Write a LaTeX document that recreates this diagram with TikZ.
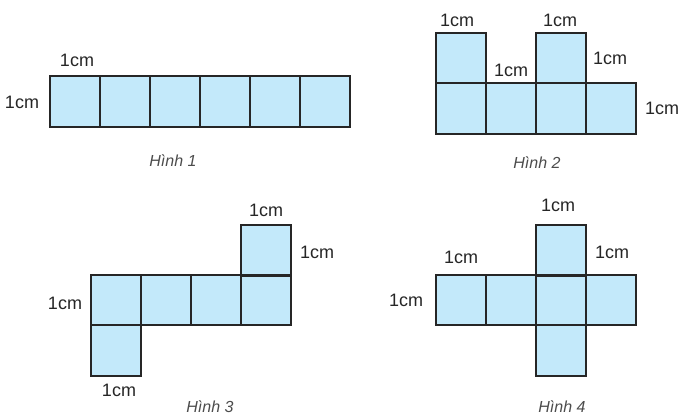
\documentclass[tikz,border=0pt]{standalone}
\usepackage{fontspec}
\setmainfont{Liberation Sans}
\definecolor{cellblue}{HTML}{C3E9FA}
\definecolor{celledge}{HTML}{262626}
\tikzstyle{cell} = [fill=cellblue, draw=celledge, line width=1.4pt]
\tikzstyle{fold} = [draw=celledge, line width=3pt]
\tikzstyle{len} = [font=\fontsize{18}{18}\selectfont, text=black!85, inner sep=0pt]
\tikzstyle{caption} = [font=\itshape\fontsize{16}{16}\selectfont, text=black!70, inner sep=0pt]

\begin{document}
\begin{tikzpicture}[x=1pt, y=-1pt]
        \useasboundingbox (0,0) rectangle (679,416);

        % Hinh 1
        \foreach \i in {0,...,5}
            \draw [cell] (50+50*\i,76) rectangle +(50,51);
        \node (lenA1) [len] at (77,60) {1cm};
        \node (lenA2) [len] at (22,102) {1cm};
        \node (capA) [caption] at (173,161) {Hình 1};

        % Hinh 2
        \foreach \i in {0,...,3}
            \draw [cell] (436+50*\i,83) rectangle +(50,51);
        \foreach \x in {436,536}
            \draw [cell] (\x,33) rectangle +(50,50);
        \node (lenB1) [len] at (457,20) {1cm};
        \node (lenB2) [len] at (560,20) {1cm};
        \node (lenB3) [len] at (511,70) {1cm};
        \node (lenB4) [len] at (610,58) {1cm};
        \node (lenB5) [len] at (662,108) {1cm};
        \node (capB) [caption] at (537,163) {Hình 2};

        % Hinh 3
        \foreach \i in {0,...,3}
            \draw [cell] (91+50*\i,275) rectangle +(50,50);
        \draw [cell] (241,225) rectangle +(50,50);
        \draw [cell] (91,325) rectangle +(50,51);
        \draw [fold] (241,275) -- (291,275);
        \node (lenC1) [len] at (266,210) {1cm};
        \node (lenC2) [len] at (317,252) {1cm};
        \node (lenC3) [len] at (65,303) {1cm};
        \node (lenC4) [len] at (119,390) {1cm};
        \node (capC) [caption] at (210,407) {Hình 3};

        % Hinh 4
        \foreach \i in {0,...,3}
            \draw [cell] (436+50*\i,275) rectangle +(50,50);
        \draw [cell] (536,225) rectangle +(50,50);
        \draw [cell] (536,325) rectangle +(50,51);
        \draw [fold] (536,275) -- (586,275);
        \node (lenD1) [len] at (558,205) {1cm};
        \node (lenD2) [len] at (612,252) {1cm};
        \node (lenD3) [len] at (461,257) {1cm};
        \node (lenD4) [len] at (406,300) {1cm};
        \node (capD) [caption] at (562,407) {Hình 4};
    \end{tikzpicture}
\end{document}
